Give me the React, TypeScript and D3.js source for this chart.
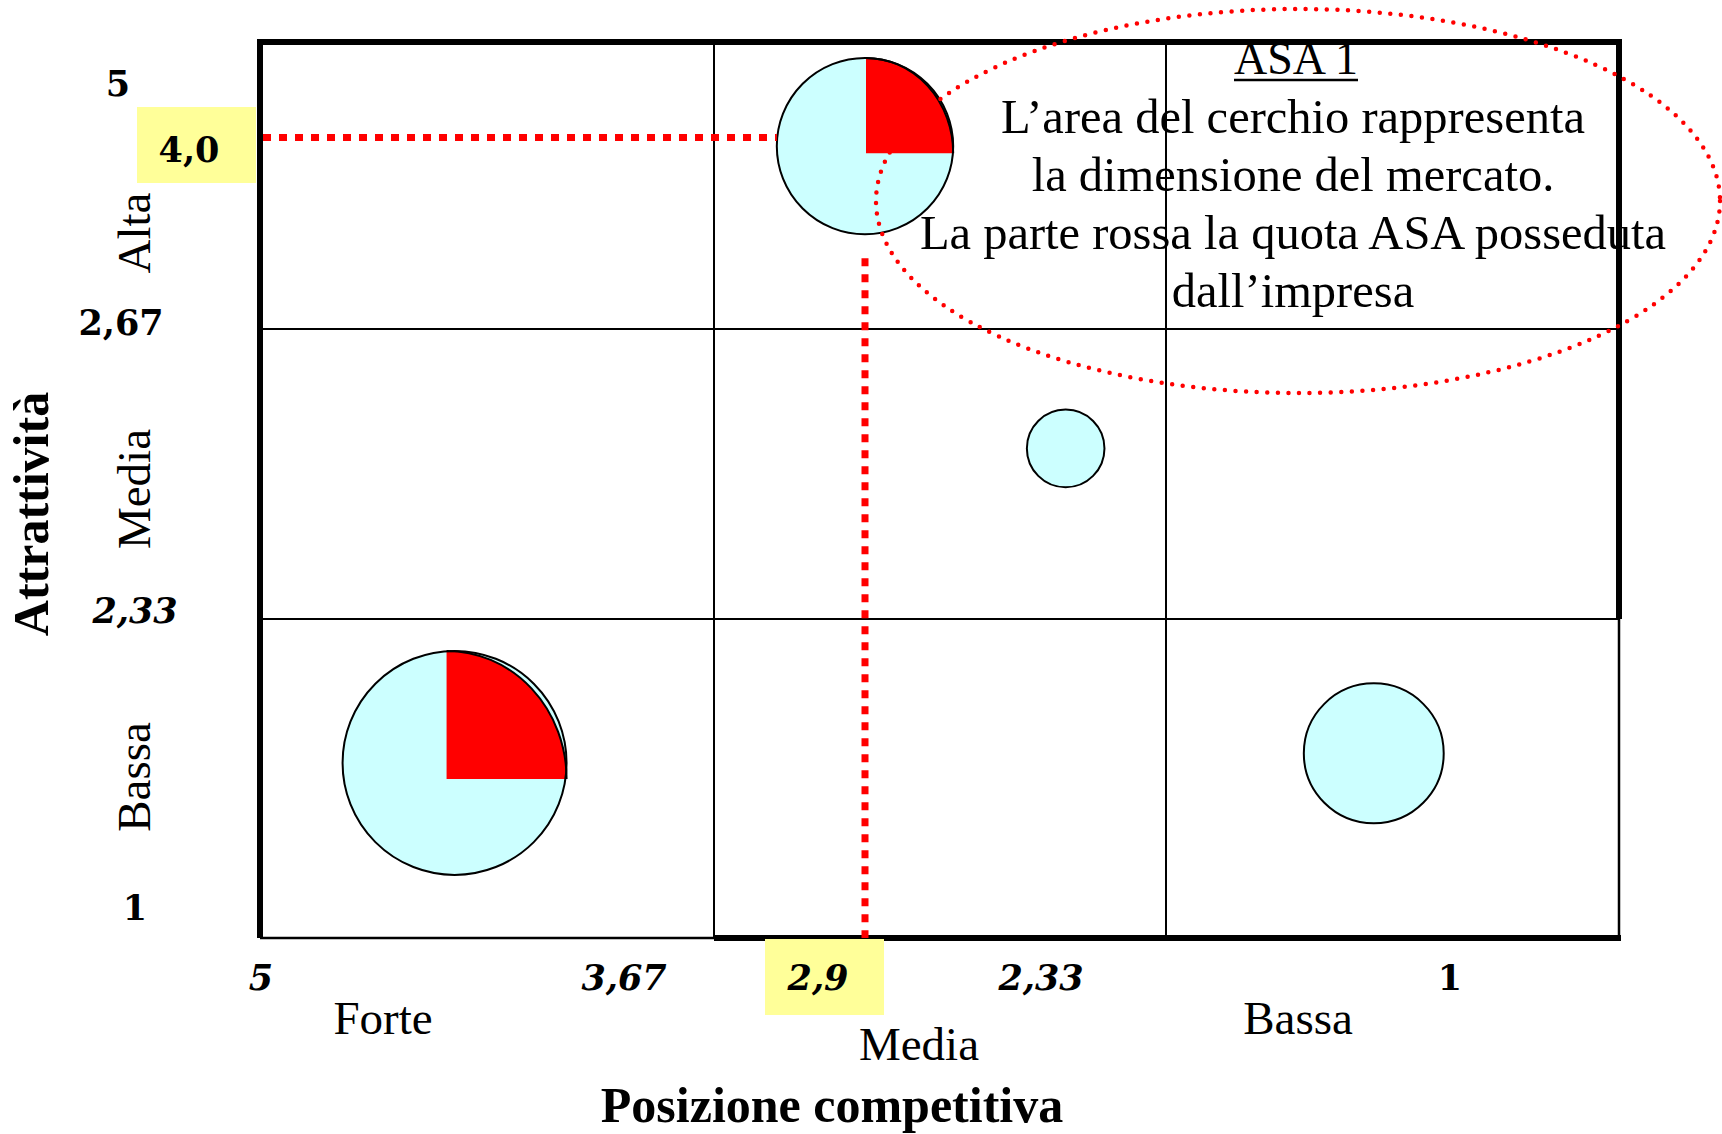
import React from "react";
import * as d3 from "d3";

// ---------- data ----------
const xTickValues = [5, 3.67, 2.9, 2.33, 1];
const xTickLabels = ["5", "3,67", "2,9", "2,33", "1"];
const yTickValues = [5, 4.0, 2.67, 2.33, 1];
const yTickLabels = ["5", "4,0", "2,67", "2,33", "1"];
const xCategories = ["Forte", "Media", "Bassa"];
const yCategories = ["Alta", "Media", "Bassa"];
const gridX = [3.67, 2.33];
const gridY = [2.67, 2.33];

const bubbleNames = ["ASA 1", "ASA 2", "ASA 3", "ASA 4"];
const bubbleX = [2.9, 2.52, 1.72, 4.43];
const bubbleY = [3.94, 2.53, 1.77, 1.73];
const marketSize = [62, 12, 39, 100];
const companyShare = [0.25, 0, 0, 0.25];

const highlightX = 2.9;
const highlightY = 4.0;

const noteTitle = "ASA 1";
const noteLines = [
  "L’area del cerchio rappresenta",
  "la dimensione del mercato.",
  "La parte rossa la quota ASA posseduta",
  "dall’impresa",
];
const xTitle = "Posizione competitiva";
const yTitle = "Attrattività";

// ---------- layout ----------
const W = 1722;
const H = 1134;
const L = 260, R = 1619, T = 42, B = 938;

const x = d3.scaleLinear().domain([5, 3.67, 2.9, 2.33, 1]).range([L, 714, 865, 1166, R]);
const y = d3.scaleLinear().domain([1, 2.33, 2.67, 4.0, 5]).range([B, 619, 329, 137.5, T]);
const rScale = d3.scaleSqrt().domain([0, 100]).range([0, 112]);

// hand-drawn offset of the red sector's corner from the bubble centre (px)
const sectorOffset = [[1, 7], [0, 0], [0, 0], [-8, 16]];

const xLabelPos = [261, 624, 818, 1041, 1450];
const xLabelStyle = ["bi", "bi", "bi", "bi", "b"];
const yLabelPos = [96, 162, 335, 623, 920];
const yLabelX = [118, 189, 121, 135, 135];
const yLabelStyle = ["b", "b", "b", "bi", "b"];
const xCatPos = [[383, 1034], [919, 1060], [1298, 1034]];
const yCatPos = [233, 489, 777];

const SERIF = "'Liberation Serif', 'Times New Roman', serif";
const NUM = "'DejaVu Serif', serif";
const CYAN = "#CCFFFF";
const RED = "#FF0000";
const YELLOW = "#FFFF99";

export default function App() {
  const arc = d3.arc<any>();
  const bubbles = bubbleNames.map((n, i) => ({
    name: n,
    cx: x(bubbleX[i]),
    cy: y(bubbleY[i]),
    r: rScale(marketSize[i]),
    share: companyShare[i],
    off: sectorOffset[i],
  }));
  const hb = bubbles[0];
  const hx = x(highlightX);
  const hy = y(highlightY);

  return (
    <svg width={W} height={H} style={{ position: "absolute", left: 0, top: 0, background: "#fff" }}>
      {/* grid */}
      {gridX.map((g) => (
        <line key={"gx" + g} x1={x(g)} x2={x(g)} y1={T} y2={B} stroke="#000" strokeWidth={2} />
      ))}
      {gridY.map((g) => (
        <line key={"gy" + g} x1={L} x2={R} y1={y(g)} y2={y(g)} stroke="#000" strokeWidth={2} />
      ))}
      {/* thin frame parts */}
      <line x1={L} x2={x(3.67)} y1={B} y2={B} stroke="#000" strokeWidth={2.5} />
      <line x1={R} x2={R} y1={y(2.33)} y2={B} stroke="#000" strokeWidth={2.5} />
      {/* thick frame parts */}
      <path
        d={`M${R},${y(2.33)} L${R},${T} L${L},${T} L${L},${B}`}
        fill="none"
        stroke="#000"
        strokeWidth={6}
        strokeLinejoin="miter"
      />
      <line x1={x(3.67)} x2={R + 2} y1={B} y2={B} stroke="#000" strokeWidth={6} />

      {/* bubbles */}
      {bubbles.map((b) => {
        const ea = 2 * Math.PI * b.share;
        const sx = (b.r - b.off[0]) / b.r;
        const sy = (b.r + b.off[1]) / b.r;
        return (
          <g key={b.name} transform={`translate(${b.cx},${b.cy})`}>
            <circle r={b.r} fill={CYAN} stroke="none" />
            {b.share > 0 && (
              <g transform={`translate(${b.off[0]},${b.off[1]}) scale(${sx},${sy})`}>
                <path
                  d={arc({ innerRadius: 0, outerRadius: b.r, startAngle: 0, endAngle: ea }) || ""}
                  fill={RED}
                />
                <path
                  d={arc({ innerRadius: b.r, outerRadius: b.r, startAngle: 0, endAngle: ea }) || ""}
                  fill="none"
                  stroke="#000"
                  strokeWidth={2}
                  vectorEffect="non-scaling-stroke"
                />
              </g>
            )}
            <circle r={b.r} fill="none" stroke="#000" strokeWidth={2} />
          </g>
        );
      })}

      {/* highlight dashed lines */}
      <line x1={L + 3} x2={hb.cx - hb.r} y1={hy} y2={hy} stroke={RED} strokeWidth={7} strokeDasharray="8 8" />
      <line x1={hx} x2={hx} y1={hb.cy + hb.r + 24} y2={B} stroke={RED} strokeWidth={7} strokeDasharray="8 8" />

      {/* yellow boxes */}
      <rect x={137} y={hy - 30.5} width={119} height={76} fill={YELLOW} />
      <rect x={hx - 100} y={B + 1} width={119} height={76} fill={YELLOW} />

      {/* y tick labels */}
      {yTickLabels.map((t, i) => (
        <text
          key={"yt" + i}
          x={yLabelX[i]}
          y={yLabelPos[i]}
          textAnchor="middle"
          fontFamily={NUM}
          fontWeight="bold"
          fontStyle={yLabelStyle[i] === "bi" ? "italic" : "normal"}
          fontSize={35}
        >
          {t}
        </text>
      ))}
      {/* x tick labels */}
      {xTickLabels.map((t, i) => (
        <text
          key={"xt" + i}
          x={xLabelPos[i]}
          y={990}
          textAnchor="middle"
          fontFamily={NUM}
          fontWeight="bold"
          fontStyle={xLabelStyle[i] === "bi" ? "italic" : "normal"}
          fontSize={35}
        >
          {t}
        </text>
      ))}

      {/* category labels */}
      {yCategories.map((c, i) => (
        <text
          key={"yc" + i}
          transform={`translate(150,${yCatPos[i]}) rotate(-90)`}
          textAnchor="middle"
          fontFamily={SERIF}
          fontSize={47}
        >
          {c}
        </text>
      ))}
      {xCategories.map((c, i) => (
        <text key={"xc" + i} x={xCatPos[i][0]} y={xCatPos[i][1]} textAnchor="middle" fontFamily={SERIF} fontSize={47}>
          {c}
        </text>
      ))}

      {/* axis titles */}
      <text x={832} y={1122} textAnchor="middle" fontFamily={SERIF} fontWeight="bold" fontSize={50}>
        {xTitle}
      </text>
      <text
        transform="translate(48,514) rotate(-90)"
        textAnchor="middle"
        fontFamily={SERIF}
        fontWeight="bold"
        fontSize={50}
      >
        {yTitle}
      </text>

      {/* annotation */}
      <text x={1296} y={74} textAnchor="middle" fontFamily={SERIF} fontSize={46}>
        {noteTitle}
      </text>
      <line x1={1234} x2={1358} y1={80} y2={80} stroke="#000" strokeWidth={2.5} />
      {noteLines.map((l, i) => (
        <text key={"nl" + i} x={1293} y={133 + i * 58} textAnchor="middle" fontFamily={SERIF} fontSize={48.5}>
          {l}
        </text>
      ))}
      <ellipse
        cx={1298}
        cy={201}
        rx={422}
        ry={192}
        fill="none"
        stroke={RED}
        strokeWidth={4.5}
        strokeDasharray="0 10.6"
        strokeLinecap="round"
      />
    </svg>
  );
}
